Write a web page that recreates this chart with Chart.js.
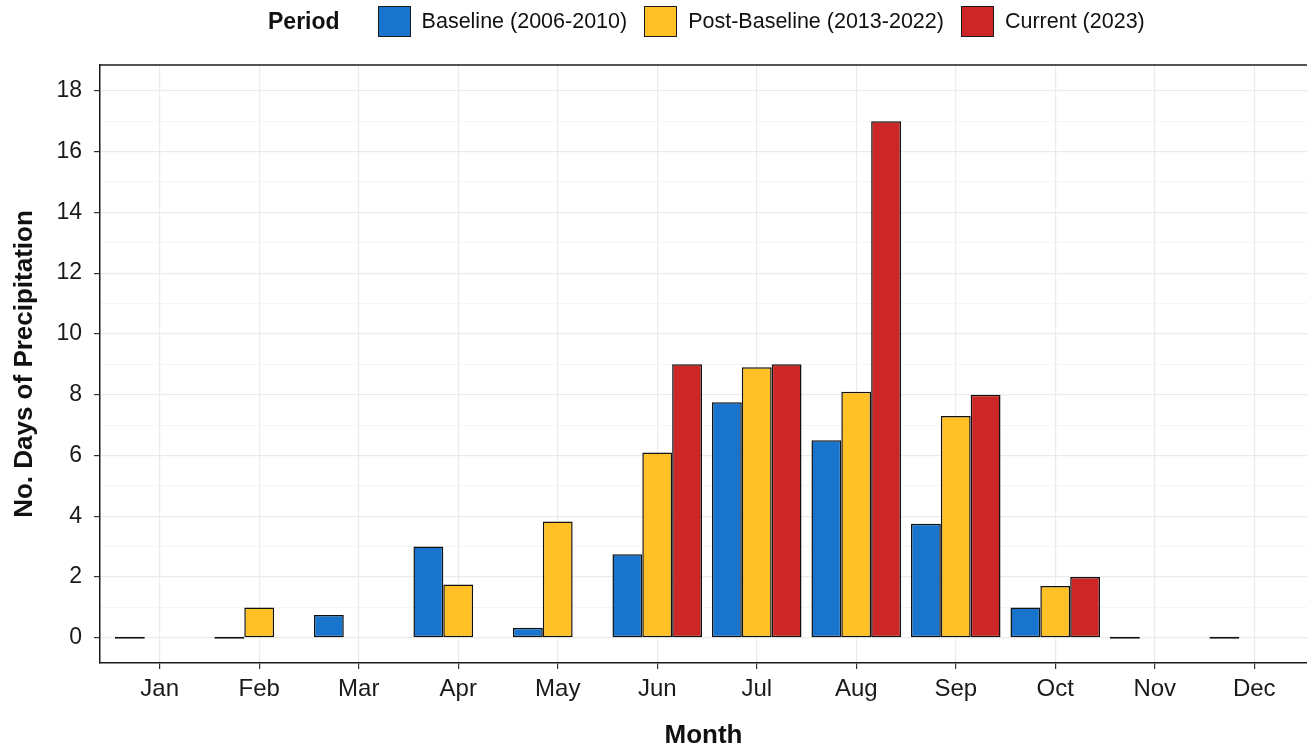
<!DOCTYPE html>
<html>
<head>
<meta charset="utf-8">
<script src="https://cdn.jsdelivr.net/npm/chart.js@4.4.0/dist/chart.umd.min.js"></script>
<style>
  body { margin: 0; background: #fff; }
  #wrap { position: relative; width: 1307px; height: 748px; overflow: hidden; }
  #legend { position: absolute; top: 6px; left: 268px; display: flex; align-items: center; height: 31px;
    font-family: "Liberation Sans", Arial, sans-serif; color: #111; white-space: nowrap; }
  #legend .title { font-weight: bold; font-size: 23px; margin-right: 38px; }
  #legend .box { width: 33px; height: 31px; box-sizing: border-box; border: 1.5px solid #1a1a1a; margin-right: 11px; }
  #legend .lab { font-size: 21.5px; margin-right: 17px; }
</style>
</head>
<body>
<div id="wrap">
  <canvas id="precipChart"></canvas>
  <div id="legend"></div>
</div>
<script>
// data
const months = ["Jan", "Feb", "Mar", "Apr", "May", "Jun", "Jul", "Aug", "Sep", "Oct", "Nov", "Dec"]
const periods = ["Baseline (2006-2010)", "Post-Baseline (2013-2022)", "Current (2023)"]
const colors = ["#1874CD", "#FFC125", "#CD2626"]

const baseline = [0, 0, 0.75, 3, 0.33, 2.75, 7.75, 6.5, 3.75, 1, 0, 0]
const postBaseline = [null, 1, null, 1.75, 3.83, 6.1, 8.9, 8.1, 7.3, 1.7, null, null]
const current = [null, null, null, null, null, 9, 9, 17, 8, 2, null, null]

const yTicks = [0, 2, 4, 6, 8, 10, 12, 14, 16, 18]

let series = [baseline, postBaseline, current]

// html legend with the "Period" title inline
let legend = document.getElementById("legend")
let t = document.createElement("span")
t.className = "title"
t.textContent = "Period"
legend.appendChild(t)
periods.forEach(function(p, i) {
  let b = document.createElement("span")
  b.className = "box"
  b.style.background = colors[i]
  legend.appendChild(b)
  let l = document.createElement("span")
  l.className = "lab"
  l.textContent = p
  legend.appendChild(l)
})

let datasets = series.map(function(vals, i) {
  return {
    label: periods[i],
    data: vals.map(function(v, j) { return {x: j, y: v} }),
    backgroundColor: colors[i],
    borderColor: "#111",
    borderWidth: 1.5,
    borderSkipped: false,
    minBarLength: 2,
    categoryPercentage: 0.9,
    barPercentage: 1.0
  }
})

const font = "'Liberation Sans', Arial, sans-serif"

// top edge of the panel box
const panelTop = {
  id: "panelTop",
  afterDraw: function(chart) {
    let a = chart.chartArea
    let c = chart.ctx
    c.save()
    c.strokeStyle = "#1a1a1a"
    c.lineWidth = 1.5
    c.beginPath()
    c.moveTo(a.left, a.top)
    c.lineTo(a.right, a.top)
    c.stroke()
    c.restore()
  }
}

let ctx = document.getElementById("precipChart").getContext("2d")
let chart = new Chart(ctx, {
  type: "bar",
  data: { datasets: datasets },
  plugins: [panelTop],
  options: {
    responsive: true,
    maintainAspectRatio: false,
    animation: false,
    layout: { padding: { top: 65, right: 0, left: 0, bottom: 0 } },
    plugins: { legend: { display: false }, tooltip: { enabled: false } },
    scales: {
      x: {
        type: "linear",
        min: -0.6,
        max: 11.53,
        offset: false,
        afterBuildTicks: function(scale) {
          scale.ticks = months.map(function(m, i) { return {value: i} })
        },
        afterFit: function(scale) { scale.height = 85 },
        ticks: {
          font: { family: font, size: 24 },
          color: "#1a1a1a",
          padding: 6,
          maxRotation: 0,
          autoSkip: false,
          callback: function(v) { return months[Math.round(v)] }
        },
        grid: { offset: false, color: "#ebebeb", lineWidth: 1.2, tickLength: 6, tickColor: "#333", tickWidth: 1.2 },
        border: { color: "#1a1a1a", width: 1.5 },
        title: {
          display: true,
          text: "Month",
          font: { family: font, size: 26, weight: "bold", lineHeight: 0.92 },
          color: "#111",
          padding: { top: 0, bottom: 0 }
        }
      },
      y: {
        min: -0.83,
        max: 18.85,
        afterBuildTicks: function(scale) {
          let all = []
          for (let v = 0; v <= 18; v++) all.push({value: v})
          scale.ticks = all
        },
        afterFit: function(scale) { scale.width = 100 },
        ticks: {
          font: { family: font, size: 23 },
          color: "#1a1a1a",
          padding: 12,
          callback: function(v) { return yTicks.indexOf(v) >= 0 ? String(v) : "" }
        },
        grid: {
          color: function(c) { return yTicks.indexOf(c.tick.value) >= 0 ? "#ebebeb" : "#f3f3f3" },
          lineWidth: function(c) { return yTicks.indexOf(c.tick.value) >= 0 ? 1.2 : 0.8 },
          tickLength: 6,
          tickColor: function(c) { return yTicks.indexOf(c.tick.value) >= 0 ? "#333" : "rgba(0,0,0,0)" },
          tickWidth: 1.2
        },
        border: { color: "#1a1a1a", width: 1.5 },
        title: {
          display: true,
          text: "No. Days of Precipitation",
          font: { family: font, size: 26, weight: "bold", lineHeight: 1 },
          color: "#111",
          padding: { top: 12, bottom: 0 }
        }
      }
    }
  }
})
</script>
</body>
</html>
